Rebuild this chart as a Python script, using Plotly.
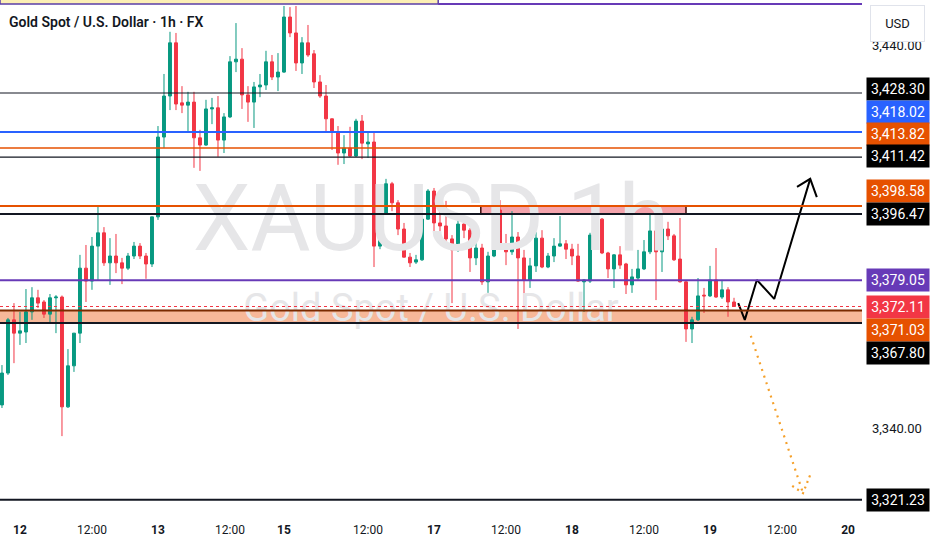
import plotly.graph_objects as go

# --- hourly XAUUSD candles, first bar is 11 Jun 20:00 ---
opens = [
    3346.2, 3354.6, 3368.6, 3365.1, 3365.4, 3370.7, 3374.4, 3373.3, 3370.1, 3374.4,
    3374.6, 3345.7, 3356.5, 3365.1, 3382.2, 3378.8, 3388.0, 3391.5, 3383.6, 3385.4,
    3383.6, 3382.2, 3385.4, 3388.0, 3385.4, 3383.3, 3395.7, 3416.7, 3427.5, 3441.5,
    3425.7, 3425.1, 3425.9, 3416.5, 3414.6, 3424.1, 3424.4, 3415.9, 3422.0, 3436.5,
    3437.2, 3427.8, 3425.9, 3429.9, 3430.4, 3436.5, 3432.5, 3433.8, 3448.3, 3444.1,
    3436.2, 3441.5, 3438.6, 3431.2, 3427.5, 3421.5, 3418.0, 3412.5, 3413.8, 3411.7,
    3420.9, 3414.9, 3415.4, 3388.0, 3396.7, 3404.4, 3399.4, 3392.5, 3385.1, 3383.8,
    3384.4, 3395.1, 3402.5, 3394.1, 3393.3, 3389.9, 3387.0, 3393.8, 3392.2, 3384.9,
    3387.5, 3378.6, 3385.4, 3397.5, 3388.0, 3386.5, 3390.4, 3384.9, 3379.1, 3382.8,
    3390.1, 3382.5, 3385.4, 3388.0, 3388.6, 3387.2, 3385.4, 3378.6, 3378.8, 3390.9,
    3395.1, 3386.2, 3382.0, 3385.7, 3383.3, 3377.8, 3379.6, 3382.0, 3386.5, 3392.0,
    3386.5, 3392.5, 3390.7, 3384.6, 3378.6, 3366.2, 3368.6, 3375.1, 3374.9, 3379.1,
    3374.6, 3376.5, 3373.3,
]
highs = [
    3356.7, 3369.1, 3373.0, 3370.7, 3376.7, 3377.2, 3376.5, 3373.8, 3375.4, 3375.1,
    3375.0, 3360.9, 3365.1, 3385.7, 3388.3, 3390.4, 3398.8, 3393.0, 3390.1, 3391.2,
    3384.9, 3386.2, 3389.1, 3388.8, 3386.2, 3395.7, 3419.6, 3433.3, 3444.4, 3444.1,
    3430.1, 3428.6, 3428.6, 3418.6, 3426.5, 3427.0, 3427.5, 3423.0, 3438.0, 3446.7,
    3440.1, 3430.1, 3431.2, 3433.3, 3439.4, 3438.3, 3438.8, 3451.2, 3450.9, 3451.2,
    3443.0, 3446.2, 3439.6, 3433.0, 3430.4, 3421.6, 3419.6, 3417.2, 3419.4, 3421.5,
    3422.5, 3417.8, 3417.8, 3399.1, 3405.7, 3404.9, 3400.1, 3394.1, 3386.2, 3385.7,
    3398.0, 3403.0, 3403.3, 3402.0, 3399.9, 3390.9, 3395.4, 3394.9, 3392.8, 3391.7,
    3388.6, 3386.5, 3398.6, 3400.1, 3391.2, 3397.2, 3391.7, 3387.0, 3384.9, 3391.7,
    3392.2, 3386.2, 3390.1, 3395.9, 3389.6, 3388.6, 3388.6, 3379.3, 3391.5, 3399.9,
    3395.4, 3386.5, 3385.9, 3388.0, 3383.6, 3382.0, 3387.0, 3389.6, 3396.5, 3394.4,
    3392.7, 3394.4, 3391.2, 3395.4, 3378.8, 3369.4, 3379.6, 3377.0, 3382.8, 3387.5,
    3379.1, 3377.2, 3374.4,
]
lows = [
    3345.4, 3354.1, 3357.2, 3362.0, 3362.5, 3368.6, 3371.7, 3369.1, 3367.8, 3365.1,
    3338.0, 3345.4, 3354.9, 3362.5, 3373.3, 3376.5, 3379.1, 3382.8, 3377.8, 3380.9,
    3378.0, 3381.7, 3384.6, 3384.6, 3379.4, 3382.5, 3394.9, 3413.8, 3423.8, 3423.8,
    3423.0, 3418.3, 3408.6, 3407.8, 3414.4, 3420.1, 3411.5, 3412.5, 3421.7, 3433.8,
    3424.1, 3420.7, 3419.1, 3427.2, 3429.1, 3431.7, 3428.8, 3433.6, 3443.0, 3434.1,
    3433.3, 3437.8, 3429.6, 3427.0, 3417.8, 3413.3, 3409.4, 3409.6, 3411.5, 3411.5,
    3410.9, 3411.2, 3382.5, 3387.2, 3396.5, 3397.2, 3390.9, 3385.0, 3382.5, 3383.3,
    3384.1, 3394.9, 3391.5, 3390.9, 3388.8, 3373.0, 3386.5, 3390.1, 3381.2, 3383.0,
    3377.8, 3375.7, 3385.1, 3387.0, 3383.0, 3385.7, 3366.2, 3372.0, 3377.0, 3381.2,
    3382.2, 3382.2, 3383.8, 3387.8, 3384.6, 3383.0, 3378.6, 3370.7, 3378.3, 3390.7,
    3385.9, 3379.6, 3377.0, 3382.0, 3375.4, 3375.7, 3379.1, 3381.7, 3385.9, 3373.8,
    3381.2, 3389.6, 3384.1, 3378.4, 3362.8, 3362.5, 3368.3, 3370.4, 3374.6, 3374.4,
    3374.1, 3369.4, 3372.0,
]
closes = [
    3354.6, 3368.6, 3365.1, 3365.7, 3370.7, 3374.4, 3373.0, 3370.1, 3374.4, 3374.6,
    3345.7, 3356.5, 3365.1, 3382.2, 3378.8, 3388.0, 3391.5, 3383.6, 3385.4, 3383.6,
    3382.2, 3385.4, 3388.0, 3385.4, 3383.3, 3395.7, 3416.7, 3427.5, 3441.5, 3425.4,
    3425.1, 3425.9, 3416.5, 3414.6, 3424.1, 3424.4, 3415.9, 3422.0, 3436.5, 3437.2,
    3427.8, 3425.9, 3429.9, 3430.4, 3436.5, 3432.5, 3433.8, 3448.3, 3444.1, 3436.2,
    3441.5, 3438.3, 3431.2, 3427.5, 3421.5, 3418.0, 3412.5, 3413.8, 3411.7, 3420.9,
    3415.1, 3415.4, 3388.0, 3396.7, 3404.4, 3399.4, 3392.5, 3385.1, 3383.6, 3384.4,
    3395.1, 3402.5, 3394.1, 3393.3, 3389.9, 3387.0, 3393.8, 3392.2, 3384.9, 3387.5,
    3378.6, 3385.4, 3398.0, 3388.0, 3386.5, 3390.4, 3384.9, 3379.1, 3382.8, 3390.1,
    3382.5, 3385.4, 3388.0, 3388.6, 3387.2, 3385.4, 3378.8, 3379.1, 3390.9, 3395.1,
    3386.2, 3382.0, 3385.7, 3383.0, 3377.8, 3379.9, 3382.0, 3386.5, 3392.0, 3386.5,
    3392.5, 3390.7, 3384.4, 3378.6, 3366.2, 3368.6, 3374.9, 3374.9, 3379.1, 3374.6,
    3376.5, 3373.3, 3372.11,
]
first_bar = -3  # bar 0 = 12 Jun 00:00
bar_idx = list(range(first_bar, first_bar + len(opens)))

# time axis labels (bar index where they sit)
tick_idx = [0, 12, 23, 35, 44, 58, 69, 81, 92, 104, 115, 127, 138]
tick_text = ["12", "12:00", "13", "12:00", "15", "12:00", "17", "12:00",
             "18", "12:00", "19", "12:00", "20"]
bold_ticks = ["12", "13", "15", "17", "18", "19", "20"]

# horizontal levels drawn on the chart
level_prices = [3428.30, 3418.02, 3413.82, 3411.42, 3398.58, 3396.47,
                3379.05, 3372.11, 3371.03, 3367.80, 3321.23]
level_colors = ["#131722", "#2962ff", "#e65100", "#131722", "#e65100", "#131722",
                "#673ab7", "#f23645", "#7a2a00", "#131722", "#131722"]
level_widths = [1.2, 2, 1.3, 1.4, 2, 2, 2, 1, 2, 2, 2]
label_colors = ["#000000", "#2962ff", "#e65100", "#000000", "#e65100", "#000000",
                "#673ab7", "#f23645", "#e65100", "#000000", "#000000"]
label_shift = [3.5, 20, 14.5, 1, 15, 0, 0, 0, -19.5, -30, 0]
axis_ticks = [3440, 3340]

# zones / drawings
support_zone = (3367.80, 3371.03)
range_box = (76.8, 111.0, 3396.47, 3398.58)
top_zone_end = 69.7
top_zone_low = 3451.7
path_x = [119.7, 120.8, 122.8, 125.7, 131.7]
path_y = [3373.0, 3368.6, 3379.1, 3374.1, 3405.7]
path_head_x = [129.5, 131.7, 132.8]
path_head_y = [3403.6, 3405.7, 3400.9]
alt_x = [121.8, 130.5]
alt_y = [3364.4, 3323.0]
alt_head_x = [128.7, 130.5, 131.7]
alt_head_y = [3324.9, 3323.0, 3327.8]

x_range = [-3.33, 140.33]
y_range = [3317.24, 3452.77]

FONT = "Roboto, Arial, sans-serif"

fig = go.Figure()

# watermark (below candles)
fig.add_trace(go.Scatter(
    x=[x_range[0] + 0.5 * (x_range[1] - x_range[0])] * 2,
    y=[y_range[1] - 227 / 515 * (y_range[1] - y_range[0]),
       y_range[1] - 311 / 515 * (y_range[1] - y_range[0])],
    mode="text",
    text=["XAUUSD 1h", "Gold Spot / U.S. Dollar"],
    textfont=dict(family=FONT, size=[92, 38], color="#e6e6e8"),
    hoverinfo="skip",
    showlegend=False,
))

fig.add_trace(go.Candlestick(
    x=bar_idx,
    open=opens,
    high=highs,
    low=lows,
    close=closes,
    increasing=dict(line=dict(color="#089981", width=1), fillcolor="#089981"),
    decreasing=dict(line=dict(color="#f23645", width=1), fillcolor="#f23645"),
    showlegend=False,
))

# projected path (black) and alternative (orange dotted)
fig.add_trace(go.Scatter(x=path_x, y=path_y, mode="lines",
                         line=dict(color="#000000", width=2), hoverinfo="skip",
                         showlegend=False))
fig.add_trace(go.Scatter(x=path_head_x, y=path_head_y, mode="lines",
                         line=dict(color="#000000", width=2), hoverinfo="skip",
                         showlegend=False))
fig.add_trace(go.Scatter(x=alt_x, y=alt_y, mode="lines",
                         line=dict(color="#f5a02a", width=2.2, dash="2px,5px"),
                         hoverinfo="skip", showlegend=False))
fig.add_trace(go.Scatter(x=alt_head_x, y=alt_head_y, mode="lines",
                         line=dict(color="#f5a02a", width=2.2, dash="2px,4px"),
                         hoverinfo="skip", showlegend=False))

# zones
fig.add_shape(type="rect", xref="paper", x0=0, x1=1, y0=support_zone[0],
              y1=support_zone[1], fillcolor="#f7b899", line_width=0, layer="below")
fig.add_shape(type="rect", x0=range_box[0], x1=range_box[1], y0=range_box[2],
              y1=range_box[3], fillcolor="#f4a4ad", line=dict(color="#3a0c0c", width=1.5),
              layer="below")
fig.add_shape(type="rect", x0=x_range[0], x1=top_zone_end, y0=top_zone_low,
              y1=top_zone_low + 10, fillcolor="#fcefb5",
              line=dict(color="#5b3fa8", width=1.5), layer="below")
fig.add_shape(type="line", x0=top_zone_end, x1=x_range[1], y0=top_zone_low,
              y1=top_zone_low, line=dict(color="#673ab7", width=2))

for p, c, w in zip(level_prices, level_colors, level_widths):
    dash = "dot" if c == "#f23645" else "solid"
    fig.add_shape(type="line", xref="paper", x0=0, x1=1, y0=p, y1=p,
                  line=dict(color=c, width=w, dash=dash))

# price scale labels
for p, bg, s in zip(level_prices, label_colors, label_shift):
    fig.add_annotation(
        x=1, xref="paper", xanchor="left", xshift=4, y=p, yref="y", yshift=s,
        text=f"{p:,.2f}", showarrow=False, bgcolor=bg, width=58, height=18,
        borderpad=2, font=dict(family=FONT, size=14, color="#ffffff"),
    )
for t in axis_ticks:
    fig.add_annotation(
        x=1, xref="paper", xanchor="left", xshift=8, y=t, yref="y",
        yshift=3 if t == 3440 else 0,
        text=f"{t:,.2f}", showarrow=False,
        font=dict(family=FONT, size=13, color="#131722"),
    )
fig.add_annotation(
    x=1, xref="paper", xanchor="left", xshift=8, y=1, yref="paper", yanchor="top",
    yshift=-5, text="USD", showarrow=False, bgcolor="#ffffff", bordercolor="#e0e3eb",
    borderwidth=1, width=51, height=33, font=dict(family=FONT, size=13, color="#131722"),
)

# chart header
fig.add_annotation(
    x=0, xref="paper", xanchor="left", xshift=7, y=1, yref="paper", yanchor="middle",
    yshift=-22, text="Gold Spot / U.S. Dollar · 1h · FX", showarrow=False,
    font=dict(family=FONT, size=14, color="#131722", weight=600),
)

fig.update_xaxes(
    range=x_range,
    tickvals=tick_idx,
    ticktext=[f"<b>{t}</b>" if t in bold_ticks else t for t in tick_text],
    tickfont=dict(family=FONT, size=12, color="#131722"),
    ticklabelstandoff=6,
    showgrid=False, zeroline=False, showline=False, ticks="",
    rangeslider=dict(visible=False),
)
fig.update_yaxes(range=y_range, visible=False, showgrid=False)

fig.update_layout(
    width=932,
    height=550,
    autosize=False,
    margin=dict(l=0, r=70, t=0, b=35),
    paper_bgcolor="#ffffff",
    plot_bgcolor="#ffffff",
    showlegend=False,
    hovermode=False,
)

fig.write_html("out.html", config={"displayModeBar": False},
               post_script="document.body.style.margin='0';")
